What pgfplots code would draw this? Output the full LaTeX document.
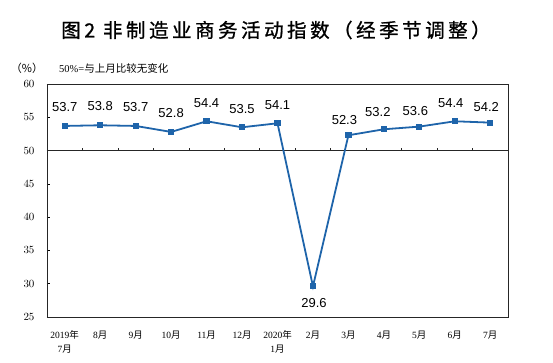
\documentclass[border=0pt]{standalone}
\usepackage{fontspec}
\setmainfont{Liberation Serif}
\newfontfamily\lsans{Liberation Sans}
\newfontfamily\cjk{Noto Sans CJK SC}
\newfontfamily\cjkt{Noto Sans CJK SC}[LetterSpace=18, FakeBold=1]
\usepackage{pgfplots}
\usepackage{pgfplotstable}
\pgfplotsset{compat=1.18}
\definecolor{lineblue}{RGB}{30,100,170}
\pgfplotstableread{
x y lab dx dy
0 53.7 53.7 0 19
1 53.8 53.8 0 19
2 53.7 53.7 0 19
3 52.8 52.8 0 19
4 54.4 54.4 0 18
5 53.5 53.5 0 18
6 54.1 54.1 0 18
7 29.6 29.6 1 -17
8 52.3 52.3 -4 15
9 53.2 53.2 -6 17
10 53.6 53.6 -4 16
11 54.4 54.4 -4 18
12 54.2 54.2 -4 16
}\datatable
\begin{document}
\begin{tikzpicture}
\useasboundingbox (-47pt,-45pt) rectangle (506pt,317pt);
\begin{axis}[
  at={(0pt,0pt)}, anchor=south west,
  scale only axis, width=461pt, height=233pt,
  xmin=-0.5, xmax=12.5, ymin=25, ymax=60,
  axis line style={line width=0.8pt, black!85},
  ytick={25,30,...,60},
  ytick pos=left, tick align=inside, major tick length=3pt,
  tick style={black, line width=0.6pt},
  yticklabel style={font=\fontsize{11}{12}\selectfont, xshift=-9pt},
  xtick={0,...,12},
  xtick style={draw=none},
  xticklabels={{2019{\cjk 年}\\7{\cjk 月}},{8{\cjk 月}},{9{\cjk 月}},{10{\cjk 月}},{11{\cjk 月}},{12{\cjk 月}},{2020{\cjk 年}\\1{\cjk 月}},{2{\cjk 月}},{3{\cjk 月}},{4{\cjk 月}},{5{\cjk 月}},{6{\cjk 月}},{7{\cjk 月}}},
  xticklabel style={align=center, font=\fontsize{9.5}{14}\selectfont, yshift=-10pt},
  clip=false,
]
\draw[black!85, line width=0.8pt] (axis cs:-0.5,50) -- (axis cs:12.5,50);
\pgfplotsinvokeforeach{0.5,1.5,2.5,3.5,4.5,5.5,6.5,7.5,8.5,9.5,10.5,11.5}{
  \draw[black!85, line width=0.6pt] (axis cs:#1,50) -- ++(0pt,3pt);
}
\addplot[lineblue, line width=1.8pt, mark=square*, mark size=2.2pt,
  mark options={solid, fill=lineblue},
  point meta=explicit symbolic,
  visualization depends on={\thisrow{dx} \as \mydx},
  visualization depends on={\thisrow{dy} \as \mydy},
  nodes near coords,
  every node near coord/.append style={anchor=center, text=black,
    font=\lsans\fontsize{13}{14}\selectfont, xshift=\mydx pt, yshift=\mydy pt},
] table[x=x, y=y, meta=lab] {\datatable};
\end{axis}
\node[font=\cjkt\fontsize{19.5}{22}\selectfont] at (229pt,287pt) {图2\ 非制造业商务活动指数（经季节调整）};
\node[font=\cjk\fontsize{11}{12}\selectfont] at (-20pt,249pt) {（\%）};
\node[anchor=west, font=\fontsize{10.5}{12}\selectfont, inner sep=0pt] at (12pt,249pt) {50\%={\cjk 与上月比较无变化}};
\end{tikzpicture}
\end{document}
